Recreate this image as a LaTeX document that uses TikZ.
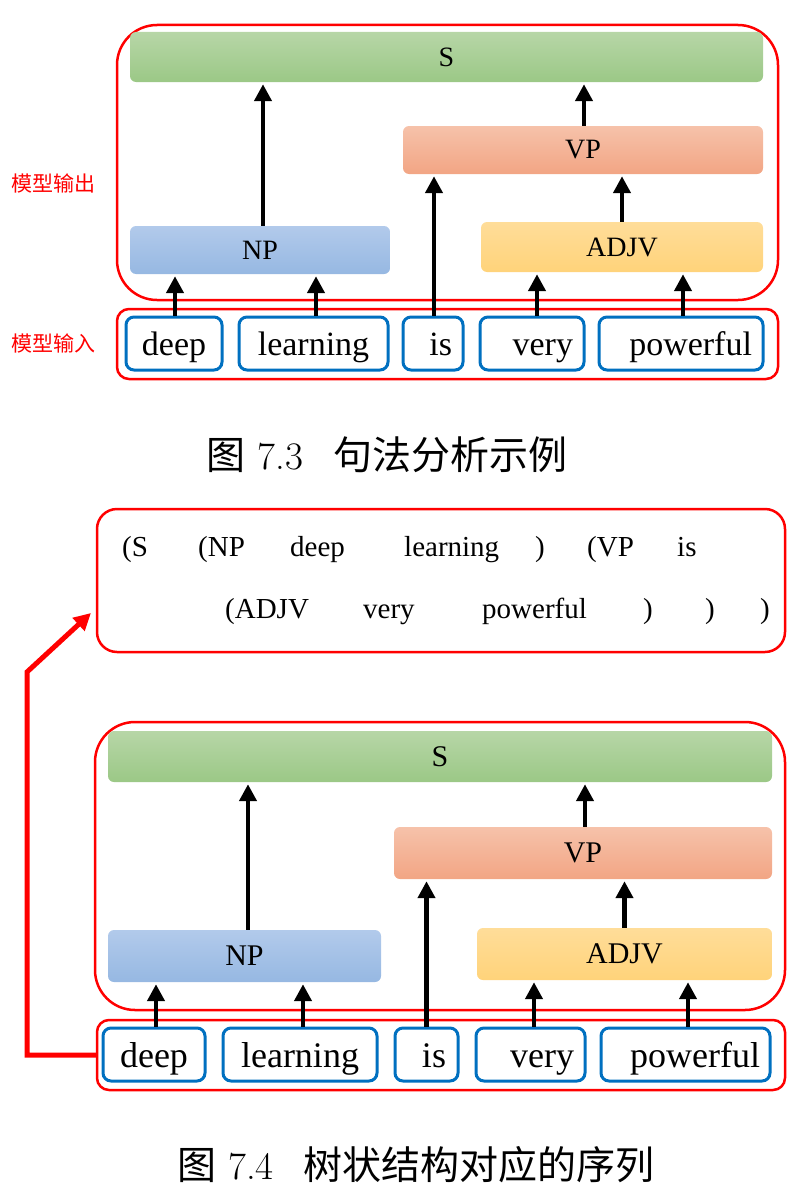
\documentclass[tikz,border=0pt]{standalone}
\usepackage{fontspec}
\newfontfamily\tnr{Liberation Serif}
\newfontfamily\cjk{Noto Sans CJK SC}
\usetikzlibrary{arrows.meta}
\definecolor{rb}{RGB}{255,0,0}
\definecolor{wb}{RGB}{0,112,192}
\definecolor{gT}{RGB}{183,214,167}
\definecolor{gB}{RGB}{155,200,134}
\definecolor{bT}{RGB}{178,202,235}
\definecolor{bB}{RGB}{150,184,226}
\definecolor{oT}{RGB}{246,194,170}
\definecolor{oB}{RGB}{242,165,132}
\definecolor{yT}{RGB}{255,221,153}
\definecolor{yB}{RGB}{255,211,122}
\begin{document}
\begin{tikzpicture}[x=1pt,y=-1pt,
  redbox/.style={draw=rb,line width=2.5,rounded corners=#1,inner sep=0},
  redbox/.default=12,
  bar/.style={rounded corners=6,inner sep=0,font=\tnr\fontsize{28}{32}\selectfont},
  gbar/.style={bar,top color=gT,bottom color=gB},
  bbar/.style={bar,top color=bT,bottom color=bB},
  obar/.style={bar,top color=oT,bottom color=oB},
  ybar/.style={bar,top color=yT,bottom color=yB},
  word/.style={draw=wb,line width=3,rounded corners=8,fill=white,inner ysep=0,
    text height=30,text depth=7,font=\tnr\fontsize{34}{40}\selectfont},
  wordb/.style={word,text height=32,text depth=7,font=\tnr\fontsize{36}{42}\selectfont},
  rt/.style={align=right,inner xsep=#1},
  rt/.default=11,
  arr/.style={line width=4.6,-{Triangle[length=17,width=17]},shorten >=2},
  seqt/.style={anchor=base west,inner sep=0,font=\tnr\fontsize{29}{34}\selectfont},
  lab/.style={text=rb,font=\cjk\fontsize{21}{24}\selectfont},
  captext/.style={font=\fontsize{39}{44}\selectfont}
]
\useasboundingbox (0,0) rectangle (800,1199);

% ---------------- Figure 7.3 ----------------
\node[redbox=40,minimum width=661,minimum height=275] (out1) at (447.5,162.5) {};
\node[redbox,minimum width=661,minimum height=70] (in1) at (447.5,344) {};
\node[gbar,minimum width=633,minimum height=50] (S1) at (446.5,57) {S};
\node[bbar,minimum width=260,minimum height=48] (NP1) at (260,250) {NP};
\node[obar,minimum width=360,minimum height=48] (VP1) at (583,150) {VP};
\node[ybar,minimum width=282,minimum height=50] (AD1) at (622,247) {ADJV};

\node[word,minimum width=96,minimum height=53] (deep1) at (174,343.5) {deep};
\node[word,minimum width=149,minimum height=53] (learn1) at (313.5,343.5) {learning};
\node[word,rt,text width=38,minimum height=53] (is1) at (433,343.5) {is};
\node[word,rt,text width=82,minimum height=53] (very1) at (532,343.5) {very};
\node[word,rt,text width=142,minimum height=53] (pow1) at (681,343.5) {powerful};

\draw[arr] ([xshift=1]deep1.north) -- ([xshift=1]deep1.north |- NP1.south);
\draw[arr] ([xshift=2.5]learn1.north) -- ([xshift=2.5]learn1.north |- NP1.south);
\draw[arr] ([xshift=1]is1.north) -- ([xshift=1]is1.north |- VP1.south);
\draw[arr] ([xshift=5]very1.north) -- ([xshift=5]very1.north |- AD1.south);
\draw[arr] ([xshift=2]pow1.north) -- ([xshift=2]pow1.north |- AD1.south);
\draw[arr] ([xshift=3]NP1.north) -- ([xshift=3]NP1.north |- S1.south);
\draw[arr] (AD1.north) -- (AD1.north |- VP1.south);
\draw[arr] ([xshift=1]VP1.north) -- ([xshift=1]VP1.north |- S1.south);

\node[lab] (lo) at (54,183) {模型输出};
\node[lab] (li) at (54,343) {模型输入};

\node[captext] (cap1) at (387,455) {{\cjk 图} 7.3\hspace{30pt}{\cjk 句法分析示例}};

% ---------------- Figure 7.4 ----------------
\node[redbox=20,minimum width=688,minimum height=143] (seq) at (441,580.5) {};
\node[seqt] (t1) at (122,556) {(S};
\node[seqt] (t2) at (198,556) {(NP};
\node[seqt] (t3) at (290,556) {deep};
\node[seqt] (t4) at (404,556) {learning};
\node[seqt] (t5) at (535,556) {)};
\node[seqt] (t6) at (587,556) {(VP};
\node[seqt] (t7) at (677,556) {is};
\node[seqt] (t8) at (225,618) {(ADJV};
\node[seqt] (t9) at (363,618) {very};
\node[seqt] (t10) at (482,618) {powerful};
\node[seqt] (t11) at (643,618) {)};
\node[seqt] (t12) at (705,618) {)};
\node[seqt] (t13) at (760,618) {)};

\node[redbox=40,minimum width=690,minimum height=288] (out2) at (440,866) {};
\node[redbox,minimum width=688,minimum height=70] (in2) at (441,1055) {};
\node[gbar,minimum width=664,minimum height=51,font=\tnr\fontsize{30}{34}\selectfont] (S2) at (440,756.5) {S};
\node[bbar,minimum width=273,minimum height=52,font=\tnr\fontsize{30}{34}\selectfont] (NP2) at (244.5,956) {NP};
\node[obar,minimum width=378,minimum height=52,font=\tnr\fontsize{30}{34}\selectfont] (VP2) at (583,853) {VP};
\node[ybar,minimum width=295,minimum height=52,font=\tnr\fontsize{30}{34}\selectfont] (AD2) at (624.5,954) {ADJV};

\node[wordb,minimum width=102,minimum height=53] (deep2) at (154,1054.5) {deep};
\node[wordb,minimum width=154,minimum height=53] (learn2) at (300,1054.5) {learning};
\node[wordb,rt=12,text width=39,minimum height=53] (is2) at (426.5,1054.5) {is};
\node[wordb,rt,text width=87,minimum height=53] (very2) at (530.5,1054.5) {very};
\node[wordb,rt=10,text width=149,minimum height=53] (pow2) at (685.5,1054.5) {powerful};

\draw[arr] ([xshift=2]deep2.north) -- ([xshift=2]deep2.north |- NP2.south);
\draw[arr] ([xshift=3]learn2.north) -- ([xshift=3]learn2.north |- NP2.south);
\draw[arr] (is2.north) -- (is2.north |- VP2.south);
\draw[arr] ([xshift=3.5]very2.north) -- ([xshift=3.5]very2.north |- AD2.south);
\draw[arr] ([xshift=2.5]pow2.north) -- ([xshift=2.5]pow2.north |- AD2.south);
\draw[arr] ([xshift=3.5]NP2.north) -- ([xshift=3.5]NP2.north |- S2.south);
\draw[arr] (AD2.north) -- (AD2.north |- VP2.south);
\draw[arr] ([xshift=2]VP2.north) -- ([xshift=2]VP2.north |- S2.south);

\coordinate (bend) at (27,672);
\coordinate (tip) at (91,613);
\draw[draw=rb,line width=5,-{Triangle[length=17,width=17]}] (in2.west) -| (bend) -- (tip);

\node[captext] (cap2) at (416,1165) {{\cjk 图} 7.4\hspace{30pt}{\cjk 树状结构对应的序列}};
\end{tikzpicture}
\end{document}
